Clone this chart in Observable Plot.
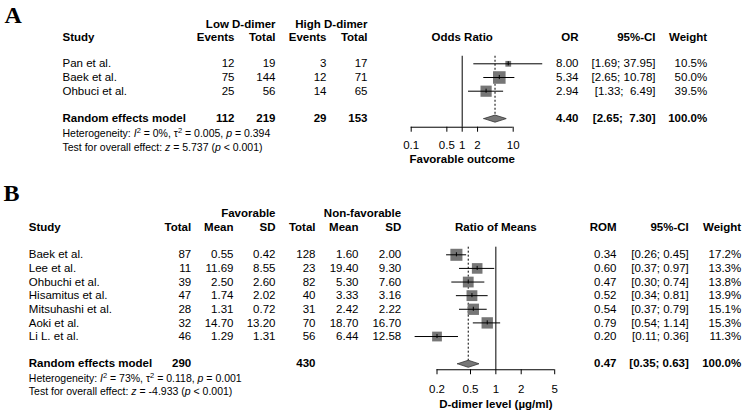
<!DOCTYPE html>
<html>
<head>
<meta charset="utf-8">
<script src="https://cdn.jsdelivr.net/npm/d3@7"></script>
<script src="https://cdn.jsdelivr.net/npm/@observablehq/plot@0.6"></script>
<style>
  body { margin: 0; background: #fff; }
  svg { display: block; }
  svg text { white-space: pre; }
</style>
</head>
<body>
<div id="chart"></div>
<script>
// ---------- Panel A data ----------
const studiesA = ["Pan et al.", "Baek et al.", "Ohbuci et al."];
const lowEvents = [12, 75, 25];
const lowTotal = [19, 144, 56];
const highEvents = [3, 12, 14];
const highTotal = [17, 71, 65];
const orEst = [8.00, 5.34, 2.94];
const orLo = [1.69, 2.65, 1.33];
const orHi = [37.95, 10.78, 6.49];
const weightA = [10.5, 50.0, 39.5];
const pooledA = [4.40, 2.65, 7.30];          // estimate, lower, upper
const totalsA = [112, 219, 29, 153];
const ticksA = [0.1, 0.5, 1, 2, 10];
const hetA = "Heterogeneity: _I_^2 = 0%, τ^2 = 0.005, _p_ = 0.394";
const testA = "Test for overall effect: _z_ = 5.737 (_p_ < 0.001)";

// ---------- Panel B data ----------
const studiesB = ["Baek et al.", "Lee et al.", "Ohbuchi et al.", "Hisamitus et al.", "Mitsuhashi et al.", "Aoki et al.", "Li L. et al."];
const favTotal = [87, 11, 39, 47, 28, 32, 46];
const favMean = [0.55, 11.69, 2.50, 1.74, 1.31, 14.70, 1.29];
const favSD = [0.42, 8.55, 2.60, 2.02, 0.72, 13.20, 1.31];
const nonTotal = [128, 23, 82, 40, 31, 70, 56];
const nonMean = [1.60, 19.40, 5.30, 3.33, 2.42, 18.70, 6.44];
const nonSD = [2.00, 9.30, 7.60, 3.16, 2.22, 16.70, 12.58];
const romEst = [0.34, 0.60, 0.47, 0.52, 0.54, 0.79, 0.20];
const romLo = [0.26, 0.37, 0.30, 0.34, 0.37, 0.54, 0.11];
const romHi = [0.45, 0.97, 0.74, 0.81, 0.79, 1.14, 0.36];
const weightB = [17.2, 13.3, 13.8, 13.9, 15.1, 15.3, 11.3];
const pooledB = [0.47, 0.35, 0.63];
const totalsB = [290, 430];
const ticksB = [0.2, 0.5, 1, 2, 5];
const hetB = "Heterogeneity: _I_^2 = 73%, τ^2 = 0.118, _p_ = 0.001";
const testB = "Test for overall effect: _z_ = -4.933 (_p_ < 0.001)";

// ---------- helpers ----------
const FONT = "'Liberation Sans', Arial, Helvetica, sans-serif";
const SERIF = "'Liberation Serif', 'Times New Roman', serif";
const FS = 11.5;
const f2 = v => v.toFixed(2);
const pct = v => v.toFixed(1) + "%";
function ciFmt(lo, hi, w) { return `[${lo.toFixed(2)}; ${hi.toFixed(2).padStart(w, " ")}]`; }

function buildPanel(c) {
  const idx = c.studies.map((_, i) => i);
  const marks = [];
  const txt = (data, y, text, x, anchor, extra = {}) =>
    Plot.text(data, {y, text, frameAnchor: "left", dx: x, textAnchor: anchor, fontSize: FS, ...extra});

  // panel letter
  marks.push(Plot.text([c.letter], {
    frameAnchor: "top-left", dx: c.letterX, dy: c.letterBaseline, text: d => d,
    lineAnchor: "bottom", textAnchor: "start", fontFamily: SERIF, fontWeight: "bold", fontSize: 24
  }));

  // group headers
  for (const g of c.groups) {
    marks.push(txt([g.text], () => c.groupRow, d => d, g.x, "end", {fontWeight: "bold"}));
  }
  // table columns
  for (const col of c.columns) {
    marks.push(txt([col.header], () => c.colRow, d => d, col.x, col.anchor, {fontWeight: "bold"}));
    marks.push(txt(idx, i => i, i => col.values[i], col.x, col.anchor));
    if (col.re != null) marks.push(txt([col.re], () => c.reRow, d => d, col.x, col.anchor, {fontWeight: "bold"}));
  }
  // stats lines
  marks.push(txt([c.het], () => c.hetRow, d => d, c.studyX, "start", {fontSize: 10.5}));
  marks.push(txt([c.test], () => c.testRow, d => d, c.studyX, "start", {fontSize: 10.5}));

  // forest plot
  const gm = Math.sqrt(c.xDomain[0] * c.xDomain[1]);
  marks.push(Plot.text([c.forestTitle], {x: () => gm, y: () => c.colRow, text: d => d, fontWeight: "bold", fontSize: FS}));
  marks.push(Plot.text([c.axisLabel], {x: () => gm, y: () => c.labelRow, text: d => d, fontWeight: "bold", fontSize: FS}));

  marks.push(Plot.ruleX([c.pooled[0]], {x: d => d, y1: () => c.lineTop, y2: () => c.reRow, stroke: "#000", strokeWidth: 1, strokeDasharray: "2,2"}));
  marks.push(Plot.ruleX([1], {x: d => d, y1: () => c.lineTop, y2: () => c.axisRow, stroke: "#000", strokeWidth: 1}));
  marks.push(Plot.ruleY([c.axisRow], {y: d => d, x1: () => c.ticks[0], x2: () => c.ticks[c.ticks.length - 1], stroke: "#000", strokeWidth: 1}));

  marks.push(Plot.dot(idx, {x: i => c.est[i], y: i => i, r: i => c.weight[i], symbol: "square", fill: "#767676", stroke: "none"}));
  marks.push(Plot.ruleY(idx, {y: i => i, x1: i => c.lo[i], x2: i => c.hi[i], stroke: "#000", strokeWidth: 1}));
  marks.push(Plot.ruleX(idx, {x: i => c.est[i], y1: i => i - 0.15, y2: i => i + 0.15, stroke: "#000", strokeWidth: 1}));

  const h = 0.26;
  const [pe, pl, ph] = c.pooled;
  const diamond = [
    {x: pl, y: c.reRow}, {x: pe, y: c.reRow - h}, {x: ph, y: c.reRow}, {x: pe, y: c.reRow + h}, {x: pl, y: c.reRow}
  ];
  marks.push(Plot.line(diamond, {x: "x", y: "y", fill: "#777", stroke: "#333", strokeWidth: 0.8}));

  marks.push(Plot.axisX({ticks: c.ticks, tickFormat: d => String(d), tickSize: 5, tickPadding: c.tickPadding, label: null, anchor: "bottom", fontSize: FS}));

  const axisY = c.yTop + c.axisRow * c.step;
  const svg = Plot.plot({
    width: 742,
    height: c.height,
    marginTop: 0, marginLeft: 0, marginRight: 0,
    marginBottom: c.height - axisY,
    x: {type: "log", domain: c.xDomain, range: c.xRange},
    y: {domain: [0, 1], range: [c.yTop, c.yTop + c.step], axis: null},
    r: {range: [0, c.rMax]},
    style: {fontFamily: FONT, fontSize: FS + "px", color: "#000", background: "#fff", overflow: "visible"},
    marks
  });
  richify(svg);
  return svg;
}

// italic (_x_) and superscript (^2) markup into tspans
function richify(svg) {
  d3.select(svg).selectAll("text").each(function () {
    const t = this.textContent;
    if (!/[_^]/.test(t)) return;
    const el = d3.select(this);
    el.text(null);
    const parts = t.split(/(_[^_]+_|\^2)/).filter(s => s !== "");
    let pending = 0;
    for (const p of parts) {
      let ts;
      if (p === "^2") {
        ts = el.append("tspan").attr("dy", -4 + pending).attr("font-size", "7.5px").text("2");
        pending = 4;
        continue;
      }
      if (p.startsWith("_") && p.endsWith("_") && p.length > 2) {
        ts = el.append("tspan").attr("font-style", "italic").text(p.slice(1, -1));
      } else {
        ts = el.append("tspan").text(p);
      }
      if (pending) { ts.attr("dy", pending); pending = 0; }
    }
  });
}

// ---------- Panel A ----------
const nA = studiesA.length;
const panelA = buildPanel({
  letter: "A", letterX: 4, letterBaseline: 22.5,
  height: 170, yTop: 63.3, step: 13.7,
  groupRow: -2.87, colRow: -1.94, reRow: nA + 1, hetRow: nA + 2.11, testRow: nA + 3.09,
  axisRow: nA + 1.63, labelRow: nA + 3.99, lineTop: -0.55,
  studyX: 62,
  studies: studiesA,
  groups: [{text: "Low D-dimer", x: 275}, {text: "High D-dimer", x: 367}],
  columns: [
    {header: "Study", x: 62, anchor: "start", values: studiesA, re: "Random effects model"},
    {header: "Events", x: 234, anchor: "end", values: lowEvents.map(String), re: String(totalsA[0])},
    {header: "Total", x: 275, anchor: "end", values: lowTotal.map(String), re: String(totalsA[1])},
    {header: "Events", x: 326, anchor: "end", values: highEvents.map(String), re: String(totalsA[2])},
    {header: "Total", x: 367, anchor: "end", values: highTotal.map(String), re: String(totalsA[3])},
    {header: "OR", x: 578, anchor: "end", values: orEst.map(f2), re: f2(pooledA[0])},
    {header: "95%-CI", x: 655, anchor: "end", values: orLo.map((l, i) => ciFmt(l, orHi[i], 5)), re: ciFmt(pooledA[1], pooledA[2], 5)},
    {header: "Weight", x: 706.7, anchor: "end", values: weightA.map(pct), re: pct(100)}
  ],
  het: hetA, test: testA,
  forestTitle: "Odds Ratio", axisLabel: "Favorable outcome",
  xDomain: [0.1, 10], xRange: [410.7, 512.7], ticks: ticksA, tickPadding: 8.5,
  est: orEst, lo: orLo, hi: orHi, weight: weightA, pooled: pooledA, rMax: 7.1
});

// ---------- Panel B ----------
const nB = studiesB.length;
const panelB = buildPanel({
  letter: "B", letterX: 3, letterBaseline: 30,
  height: 242, yTop: 84.3, step: 13.62,
  groupRow: -3.01, colRow: -2.03, reRow: nB + 1, hetRow: nB + 2.07, testRow: nB + 3.03,
  axisRow: nB + 1.44, labelRow: nB + 4.01, lineTop: -0.56,
  studyX: 28.3,
  studies: studiesB,
  groups: [{text: "Favorable", x: 275}, {text: "Non-favorable", x: 400.7}],
  columns: [
    {header: "Study", x: 28.3, anchor: "start", values: studiesB, re: "Random effects model"},
    {header: "Total", x: 190.7, anchor: "end", values: favTotal.map(String), re: String(totalsB[0])},
    {header: "Mean", x: 233, anchor: "end", values: favMean.map(f2)},
    {header: "SD", x: 275, anchor: "end", values: favSD.map(f2)},
    {header: "Total", x: 315, anchor: "end", values: nonTotal.map(String), re: String(totalsB[1])},
    {header: "Mean", x: 358, anchor: "end", values: nonMean.map(f2)},
    {header: "SD", x: 400.7, anchor: "end", values: nonSD.map(f2)},
    {header: "ROM", x: 616, anchor: "end", values: romEst.map(f2), re: f2(pooledB[0])},
    {header: "95%-CI", x: 688.3, anchor: "end", values: romLo.map((l, i) => ciFmt(l, romHi[i], 4)), re: ciFmt(pooledB[1], pooledB[2], 4)},
    {header: "Weight", x: 740.7, anchor: "end", values: weightB.map(pct), re: pct(100)}
  ],
  het: hetB, test: testB,
  forestTitle: "Ratio of Means", axisLabel: "D-dimer level (µg/ml)",
  xDomain: [0.2, 5], xRange: [436.5, 554.2], ticks: ticksB, tickPadding: 10.5,
  est: romEst, lo: romLo, hi: romHi, weight: weightB, pooled: pooledB, rMax: 6.8
});

const root = document.getElementById("chart");
root.appendChild(panelA);
root.appendChild(panelB);
</script>
</body>
</html>
